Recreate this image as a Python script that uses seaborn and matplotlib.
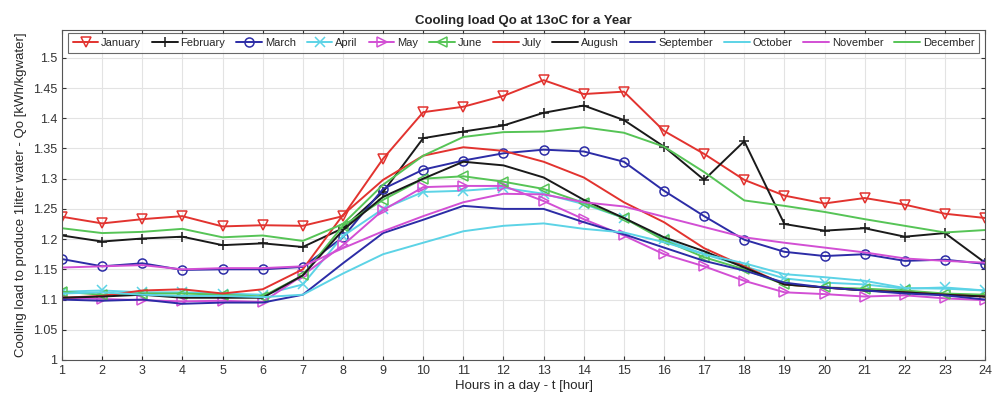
import numpy as np
import pandas as pd
import matplotlib
matplotlib.use("Agg")
import matplotlib.pyplot as plt
import seaborn as sns

# hours of the day
hours = list(range(1, 25))

# cooling load per month [kWh/kgwater]
january = [1.237, 1.226, 1.233, 1.238, 1.221, 1.223, 1.222, 1.238, 1.333, 1.410, 1.419, 1.437,
           1.463, 1.440, 1.444, 1.379, 1.341, 1.298, 1.272, 1.259, 1.268, 1.257, 1.242, 1.235]
february = [1.206, 1.196, 1.201, 1.204, 1.190, 1.193, 1.187, 1.218, 1.278, 1.367, 1.378, 1.388,
            1.409, 1.421, 1.397, 1.353, 1.298, 1.362, 1.225, 1.214, 1.218, 1.204, 1.210, 1.161]
march = [1.167, 1.155, 1.160, 1.149, 1.150, 1.150, 1.154, 1.203, 1.283, 1.315, 1.330, 1.342,
         1.348, 1.345, 1.328, 1.280, 1.238, 1.199, 1.179, 1.172, 1.175, 1.164, 1.166, 1.159]
april = [1.113, 1.115, 1.112, 1.112, 1.110, 1.108, 1.125, 1.205, 1.250, 1.278, 1.280, 1.285,
         1.275, 1.258, 1.235, 1.200, 1.175, 1.155, 1.135, 1.128, 1.125, 1.118, 1.120, 1.115]
may = [1.103, 1.101, 1.099, 1.097, 1.098, 1.096, 1.140, 1.190, 1.248, 1.286, 1.288, 1.288,
       1.263, 1.233, 1.206, 1.175, 1.155, 1.131, 1.112, 1.109, 1.105, 1.107, 1.102, 1.099]
june = [1.113, 1.108, 1.110, 1.110, 1.108, 1.105, 1.140, 1.222, 1.265, 1.300, 1.304, 1.295,
        1.283, 1.260, 1.235, 1.198, 1.170, 1.150, 1.125, 1.120, 1.118, 1.115, 1.110, 1.108]
july = [1.103, 1.106, 1.115, 1.117, 1.110, 1.117, 1.150, 1.240, 1.298, 1.338, 1.352, 1.346,
        1.328, 1.302, 1.261, 1.228, 1.185, 1.155, 1.125, 1.120, 1.115, 1.112, 1.108, 1.105]
augush = [1.103, 1.105, 1.108, 1.103, 1.103, 1.103, 1.140, 1.215, 1.270, 1.300, 1.328, 1.322,
          1.302, 1.265, 1.235, 1.203, 1.180, 1.153, 1.125, 1.120, 1.115, 1.112, 1.108, 1.105]
september = [1.100, 1.098, 1.100, 1.093, 1.095, 1.095, 1.108, 1.160, 1.210, 1.232, 1.255, 1.250,
             1.250, 1.228, 1.208, 1.186, 1.164, 1.148, 1.128, 1.120, 1.115, 1.110, 1.107, 1.100]
october = [1.110, 1.112, 1.108, 1.106, 1.106, 1.104, 1.108, 1.143, 1.175, 1.194, 1.213, 1.222,
           1.226, 1.217, 1.211, 1.195, 1.175, 1.160, 1.142, 1.137, 1.131, 1.119, 1.118, 1.115]
november = [1.153, 1.155, 1.157, 1.150, 1.152, 1.152, 1.155, 1.185, 1.213, 1.238, 1.261, 1.275,
            1.274, 1.261, 1.254, 1.237, 1.220, 1.203, 1.194, 1.186, 1.178, 1.168, 1.164, 1.161]
december = [1.218, 1.210, 1.212, 1.217, 1.203, 1.206, 1.197, 1.225, 1.290, 1.338, 1.369, 1.377,
            1.378, 1.385, 1.376, 1.353, 1.311, 1.264, 1.255, 1.245, 1.233, 1.222, 1.211, 1.215]

month_names = ["January", "February", "March", "April", "May", "June",
               "July", "Augush", "September", "October", "November", "December"]
month_values = [january, february, march, april, may, june,
                july, augush, september, october, november, december]

red, black, blue = "#e2332f", "#1a1a1a", "#2c2ca6"
cyan, magenta, green = "#5cd3e6", "#d24fd4", "#56c456"
colors = [red, black, blue, cyan, magenta, green,
          red, black, blue, cyan, magenta, green]
markers = ["v", "+", "o", "x", ">", "<", None, None, None, None, None, None]

sns.set_style("whitegrid")
plt.rcParams["font.family"] = ["Liberation Sans", "DejaVu Sans"]

fig = plt.figure(figsize=(9.92, 4.03), dpi=100)
ax = fig.add_axes([0.0625, 0.1067, 0.9305, 0.8189])

for name, vals, col, mk in zip(month_names, month_values, colors, markers):
    df = pd.DataFrame({"hour": hours, "load": vals})
    sns.lineplot(data=df, x="hour", y="load", ax=ax, color=col, label=name,
                 marker=mk, markersize=6.5, markerfacecolor="none",
                 markeredgecolor=col, markeredgewidth=1.1, linewidth=1.4)

ax.set_xlim(1, 24)
ax.set_ylim(1, 1.546)
ax.set_xticks(hours)
ax.set_yticks(np.arange(1.0, 1.501, 0.05))
ax.set_yticklabels(["1", "1.05", "1.1", "1.15", "1.2", "1.25", "1.3",
                    "1.35", "1.4", "1.45", "1.5"])
ax.grid(True, color="#e3e3e3", linewidth=0.8)
for s in ax.spines.values():
    s.set_color("#555555")
    s.set_linewidth(0.8)
ax.tick_params(direction="in", length=3, labelsize=9, colors="#333333",
               top=True, right=True, bottom=True, left=True)

ax.set_title("Cooling load Qo at 13oC for a Year", fontsize=9.5, fontweight="bold", pad=4)
ax.set_xlabel("Hours in a day - t [hour]", fontsize=9.5, labelpad=2)
ax.set_ylabel("Cooling load to produce 1liter water - Qo [kWh/kgwater]", fontsize=9.5, labelpad=4)

leg = ax.legend(loc="upper center", ncol=12, fontsize=8, frameon=True, fancybox=False,
                handlelength=2.3, handletextpad=0.25, columnspacing=1.0,
                borderaxespad=0.25, borderpad=0.45, bbox_to_anchor=(0.5, 1.0))
leg.get_frame().set_edgecolor("#444444")
leg.get_frame().set_linewidth(0.8)

fig.savefig("out.png", dpi=100)
